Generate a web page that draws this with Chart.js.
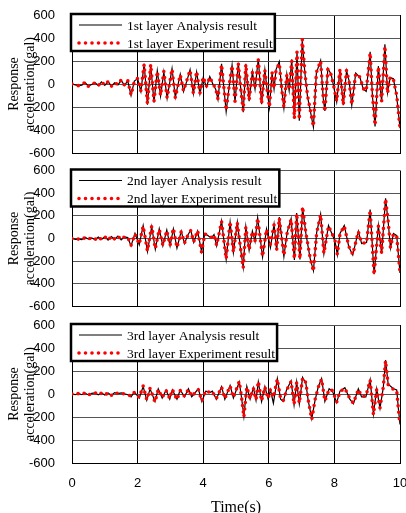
<!DOCTYPE html>
<html>
<head>
<meta charset="utf-8">
<script src="https://cdn.jsdelivr.net/npm/chart.js@4.4.0/dist/chart.umd.min.js"></script>
<style>
  html, body { margin: 0; padding: 0; background: #fff; }
  #wrap { position: relative; width: 406px; height: 513px; }
  #wrap canvas { position: absolute; left: 0; top: 0; }
</style>
</head>
<body>
<div id="wrap">
  <canvas id="c1" width="406" height="513"></canvas>
  <canvas id="c2" width="406" height="513"></canvas>
  <canvas id="c3" width="406" height="513"></canvas>
</div>
<script>
// axis setup
const yTicks = [-600, -400, -200, 0, 200, 400, 600];
const xTicks = [0, 2, 4, 6, 8, 10];
const layerNames = ['1st layer', '2nd layer', '3rd layer'];

// [time (s), acceleration (gal)]
const experiment1 = [[0,0],[0.1,-10],[0.2,-15],[0.3,-8],[0.4,15],[0.5,-20],[0.6,-5],[0.7,10],[0.8,-15],[0.9,20],
  [1.0,-10],[1.1,20],[1.2,-20],[1.3,10],[1.4,-5],[1.5,35],[1.6,-10],[1.7,30],[1.8,-95],[1.9,20],
  [2.0,50],[2.1,-60],[2.2,170],[2.3,-170],[2.4,170],[2.5,-150],[2.6,110],[2.7,-100],[2.8,110],[2.9,-120],
  [3.05,130],[3.15,-120],[3.3,80],[3.4,-60],[3.5,30],[3.6,120],[3.7,-80],[3.8,110],[3.9,-80],[4.0,60],
  [4.1,-20],[4.2,60],[4.3,0],[4.38,-40],[4.45,-130],[4.56,170],[4.7,-230],[4.79,-20],[4.88,160],[4.97,-150],
  [5.07,180],[5.15,-60],[5.22,-230],[5.3,170],[5.4,-140],[5.5,100],[5.58,-40],[5.68,210],[5.78,-170],[5.88,120],
  [5.96,-80],[6.02,-200],[6.1,100],[6.16,-40],[6.22,120],[6.32,180],[6.4,-60],[6.46,-200],[6.55,80],[6.62,-50],
  [6.7,200],[6.78,-300],[6.86,280],[6.93,-310],[7.02,390],[7.1,100],[7.18,-100],[7.28,-250],[7.36,-370],[7.45,100],
  [7.58,200],[7.66,-120],[7.71,-240],[7.8,130],[7.9,80],[7.98,-20],[8.07,-150],[8.17,130],[8.27,-180],[8.37,120],
  [8.45,20],[8.53,-180],[8.65,90],[8.78,60],[8.88,-40],[8.97,-60],[9.09,270],[9.16,-100],[9.24,-360],[9.34,150],
  [9.44,-150],[9.54,330],[9.62,-80],[9.7,60],[9.8,40],[9.9,-100],[10.0,-380]];

const analysis1 = [[0,0],[0.1,-8],[0.2,-15],[0.3,-10],[0.4,12],[0.5,-18],[0.6,-5],[0.7,12],[0.8,-15],[0.9,18],
  [1.0,-12],[1.1,22],[1.2,-18],[1.3,10],[1.4,-8],[1.5,32],[1.6,-12],[1.7,28],[1.8,-100],[1.9,25],
  [2.0,45],[2.1,-65],[2.2,175],[2.3,-180],[2.4,165],[2.5,-160],[2.6,115],[2.7,-105],[2.8,105],[2.9,-125],
  [3.05,135],[3.15,-115],[3.3,85],[3.4,-65],[3.5,25],[3.6,125],[3.7,-85],[3.8,105],[3.9,-85],[4.0,55],
  [4.1,-25],[4.2,65],[4.3,-5],[4.38,-45],[4.45,-135],[4.56,175],[4.7,-240],[4.79,-25],[4.88,165],[4.97,-155],
  [5.07,185],[5.15,-55],[5.22,-245],[5.3,175],[5.4,-150],[5.5,105],[5.58,-45],[5.68,220],[5.78,-175],[5.88,125],
  [5.96,-85],[6.02,-205],[6.1,95],[6.16,-45],[6.22,125],[6.32,195],[6.4,-65],[6.46,-210],[6.55,85],[6.62,-55],
  [6.7,215],[6.78,-305],[6.86,275],[6.93,-320],[7.02,380],[7.1,95],[7.18,-110],[7.28,-255],[7.36,-375],[7.45,95],
  [7.58,205],[7.66,-125],[7.71,-235],[7.8,135],[7.9,85],[7.98,-25],[8.07,-155],[8.17,125],[8.27,-185],[8.37,115],
  [8.45,25],[8.53,-185],[8.65,95],[8.78,55],[8.88,-45],[8.97,-65],[9.09,280],[9.16,-105],[9.24,-370],[9.34,155],
  [9.44,-155],[9.54,345],[9.62,-75],[9.7,55],[9.8,45],[9.9,-110],[10.0,-385]];

const experiment2 = [[0,0],[0.1,-10],[0.2,-5],[0.3,-12],[0.4,10],[0.5,-5],[0.6,5],[0.7,-10],[0.8,15],[0.9,-10],
  [1.0,15],[1.1,-15],[1.2,20],[1.3,-5],[1.4,20],[1.5,-10],[1.6,15],[1.7,10],[1.8,-60],[1.92,40],
  [2.05,-50],[2.17,110],[2.3,-110],[2.43,110],[2.54,-90],[2.66,80],[2.77,-60],[2.89,70],[2.99,-60],[3.09,90],
  [3.2,-80],[3.33,60],[3.43,-40],[3.52,20],[3.62,70],[3.71,-30],[3.83,70],[3.95,-120],[4.05,40],[4.15,30],
  [4.25,10],[4.33,30],[4.41,-60],[4.56,150],[4.7,-180],[4.82,150],[4.92,-120],[5.04,140],[5.14,-90],[5.22,-260],
  [5.3,100],[5.4,-100],[5.5,60],[5.58,-20],[5.66,180],[5.81,-160],[5.93,80],[6.05,-50],[6.16,120],[6.24,-100],
  [6.32,180],[6.46,-150],[6.56,50],[6.68,170],[6.78,-180],[6.85,220],[6.95,-180],[7.03,280],[7.13,50],[7.26,-170],
  [7.36,-290],[7.46,50],[7.58,210],[7.68,-130],[7.82,110],[7.92,50],[8.02,-20],[8.09,-140],[8.17,40],[8.3,110],
  [8.44,-70],[8.56,-140],[8.73,60],[8.83,-40],[8.98,-40],[9.09,250],[9.21,-320],[9.34,110],[9.44,-130],[9.56,350],
  [9.64,150],[9.71,-80],[9.8,40],[9.9,20],[10.0,-300]];

const analysis2 = [[0,0],[0.1,-8],[0.2,-6],[0.3,-10],[0.4,12],[0.5,-6],[0.6,6],[0.7,-12],[0.8,14],[0.9,-8],
  [1.0,16],[1.1,-14],[1.2,18],[1.3,-6],[1.4,22],[1.5,-12],[1.6,14],[1.7,8],[1.8,-65],[1.92,45],
  [2.05,-55],[2.17,115],[2.3,-115],[2.43,105],[2.54,-95],[2.66,85],[2.77,-65],[2.89,75],[2.99,-65],[3.09,85],
  [3.2,-85],[3.33,65],[3.43,-45],[3.52,25],[3.62,75],[3.71,-35],[3.83,65],[3.95,-115],[4.05,45],[4.15,25],
  [4.25,5],[4.33,35],[4.41,-65],[4.56,155],[4.7,-185],[4.82,145],[4.92,-125],[5.04,145],[5.14,-95],[5.22,-255],
  [5.3,105],[5.4,-105],[5.5,65],[5.58,-25],[5.66,185],[5.81,-165],[5.93,85],[6.05,-80],[6.16,125],[6.24,-105],
  [6.32,190],[6.46,-160],[6.56,55],[6.68,175],[6.78,-190],[6.85,225],[6.95,-185],[7.03,270],[7.13,45],[7.26,-175],
  [7.36,-285],[7.46,55],[7.58,215],[7.68,-135],[7.82,115],[7.92,45],[8.02,-25],[8.09,-145],[8.17,45],[8.3,115],
  [8.44,-75],[8.56,-145],[8.73,65],[8.83,-45],[8.98,-35],[9.09,255],[9.21,-315],[9.34,115],[9.44,-135],[9.56,355],
  [9.64,145],[9.71,-85],[9.8,45],[9.9,25],[10.0,-305]];

const experiment3 = [[0,0],[0.1,-8],[0.2,5],[0.3,-5],[0.4,10],[0.5,-10],[0.6,5],[0.7,12],[0.8,-8],[0.9,8],
  [1.0,-10],[1.1,12],[1.2,-12],[1.3,10],[1.4,5],[1.5,8],[1.6,0],[1.7,-5],[1.8,-20],[1.9,15],
  [2.05,-30],[2.17,70],[2.28,-50],[2.38,50],[2.53,-70],[2.63,40],[2.75,-30],[2.87,30],[2.98,-40],[3.06,40],
  [3.2,-50],[3.3,30],[3.43,-20],[3.55,40],[3.65,-20],[3.85,40],[3.96,-60],[4.08,30],[4.22,10],[4.28,20],
  [4.4,-40],[4.56,60],[4.66,-40],[4.82,70],[4.92,-30],[5.1,110],[5.17,-30],[5.24,-200],[5.33,60],[5.43,-40],
  [5.53,50],[5.61,-50],[5.68,110],[5.78,-60],[5.88,60],[5.98,-40],[6.05,40],[6.14,-30],[6.26,130],[6.36,-40],
  [6.44,-60],[6.54,30],[6.68,110],[6.77,-90],[6.85,100],[6.93,-80],[7.03,140],[7.13,100],[7.2,-50],[7.31,-220],
  [7.41,-50],[7.51,60],[7.61,130],[7.71,-60],[7.84,40],[7.94,30],[8.07,-70],[8.17,20],[8.32,50],[8.47,-40],
  [8.58,-80],[8.73,40],[8.83,-20],[8.96,-20],[9.09,120],[9.19,-180],[9.29,40],[9.39,-120],[9.49,60],[9.56,290],
  [9.64,80],[9.8,40],[9.9,30],[9.95,-130],[10.0,-270]];

const analysis3 = [[0,0],[0.1,-6],[0.2,6],[0.3,-6],[0.4,8],[0.5,-8],[0.6,6],[0.7,10],[0.8,-6],[0.9,10],
  [1.0,-8],[1.1,10],[1.2,-10],[1.3,12],[1.4,4],[1.5,10],[1.6,2],[1.7,-6],[1.8,-25],[1.9,18],
  [2.05,-35],[2.17,65],[2.28,-55],[2.38,45],[2.53,-65],[2.63,45],[2.75,-35],[2.87,35],[2.98,-45],[3.06,35],
  [3.2,-45],[3.3,35],[3.43,-25],[3.55,45],[3.65,-25],[3.85,45],[3.96,-65],[4.08,25],[4.22,15],[4.28,25],
  [4.4,-45],[4.56,65],[4.66,-45],[4.82,75],[4.92,-35],[5.1,105],[5.17,-35],[5.24,-195],[5.33,65],[5.43,-45],
  [5.53,55],[5.61,-55],[5.68,105],[5.78,-65],[5.88,65],[5.98,-45],[6.05,35],[6.14,-80],[6.26,135],[6.36,-45],
  [6.44,-65],[6.54,35],[6.68,115],[6.77,-95],[6.85,105],[6.93,-85],[7.03,145],[7.13,95],[7.2,-55],[7.31,-215],
  [7.41,-55],[7.51,65],[7.61,135],[7.71,-65],[7.84,45],[7.94,25],[8.07,-75],[8.17,25],[8.32,55],[8.47,-45],
  [8.58,-85],[8.73,45],[8.83,-25],[8.96,-25],[9.09,125],[9.19,-175],[9.29,45],[9.39,-125],[9.49,55],[9.56,295],
  [9.64,85],[9.8,45],[9.9,35],[9.95,-125],[10.0,-265]];

// legend drawn as a framed box sitting in the top-left of the plot
const boxLegend = {
  id: 'boxLegend',
  afterDraw(chart) {
    const { ctx, chartArea } = chart;
    const ds = chart.data.datasets;
    ctx.save();
    ctx.font = '13.5px "Liberation Serif", "Times New Roman", serif';
    const textW = Math.max(...ds.map(d => ctx.measureText(d.label).width));
    const x = chartArea.left - 1, y = chartArea.top - 1;
    const w = 55 + textW + 3, h = 37;
    ctx.fillStyle = '#fff';
    ctx.fillRect(x, y, w, h);
    ctx.lineWidth = 2.5;
    ctx.strokeStyle = '#000';
    ctx.strokeRect(x, y, w, h);
    ds.forEach((d, i) => {
      const ry = y + 11 + i * 18;
      ctx.beginPath();
      ctx.strokeStyle = d.borderColor;
      ctx.lineWidth = d.borderWidth;
      ctx.lineCap = d.borderCapStyle || 'butt';
      ctx.setLineDash(d.borderDash || []);
      ctx.moveTo(x + 8, ry);
      ctx.lineTo(x + 51, ry);
      ctx.stroke();
      ctx.setLineDash([]);
      ctx.fillStyle = '#000';
      ctx.textBaseline = 'middle';
      ctx.fillText(d.label, x + 56, ry + 1);
    });
    ctx.restore();
  }
};

function makePanel(id, layer, analysis, experiment, top, bottom, showX) {
  return new Chart(document.getElementById(id), {
    type: 'line',
    data: {
      datasets: [
        { label: layer + ' Analysis result', data: analysis, borderColor: '#000', borderWidth: 1.2,
          pointRadius: 0, tension: 0, order: 1 },
        { label: layer + ' Experiment result', data: experiment, borderColor: '#ff0000', borderWidth: 3.6,
          borderDash: [0, 6.5], borderCapStyle: 'round', pointRadius: 0, tension: 0, order: 0 }
      ]
    },
    options: {
      responsive: false,
      animation: false,
      layout: { padding: { top: top, bottom: bottom, left: 0, right: 6 } },
      plugins: { legend: { display: false }, tooltip: { enabled: false } },
      scales: {
        x: {
          type: 'linear', min: 0, max: 10,
          afterBuildTicks: s => { s.ticks = xTicks.map(v => ({ value: v })); },
          afterFit: s => { s.height = showX ? 50 : 0; s.paddingLeft = 0; s.paddingRight = 0; },
          grid: { color: '#000', drawTicks: false },
          border: { color: '#000', width: 1 },
          ticks: { display: showX, padding: 13, color: '#000', font: { family: '"Liberation Sans", Arial, sans-serif', size: 13 } },
          title: { display: showX, text: 'Time(s)', color: '#000',
            font: { family: '"Liberation Serif", "Times New Roman", serif', size: 16, lineHeight: 1 },
            padding: { top: 0, bottom: -3 } }
        },
        y: {
          min: -600, max: 600,
          afterBuildTicks: s => { s.ticks = yTicks.map(v => ({ value: v })); },
          afterFit: s => { s.width = 72; s.paddingTop = 0; s.paddingBottom = 0; },
          grid: { color: '#555', drawTicks: false },
          border: { color: '#000', width: 1 },
          ticks: { padding: 17, color: '#000', font: { family: '"Liberation Sans", Arial, sans-serif', size: 13 } },
          title: { display: true, text: ['Response', 'acceleration(gal)'], color: '#000',
            font: { family: '"Liberation Serif", "Times New Roman", serif', size: 14, lineHeight: 1.15 },
            padding: { top: 6, bottom: 0 } }
        }
      }
    },
    plugins: [boxLegend]
  });
}

makePanel('c1', layerNames[0], analysis1, experiment1, 15, 513 - 153, false);
makePanel('c2', layerNames[1], analysis2, experiment2, 170.5, 513 - 306.5, false);
makePanel('c3', layerNames[2], analysis3, experiment3, 325, 0, true);
</script>
</body>
</html>
